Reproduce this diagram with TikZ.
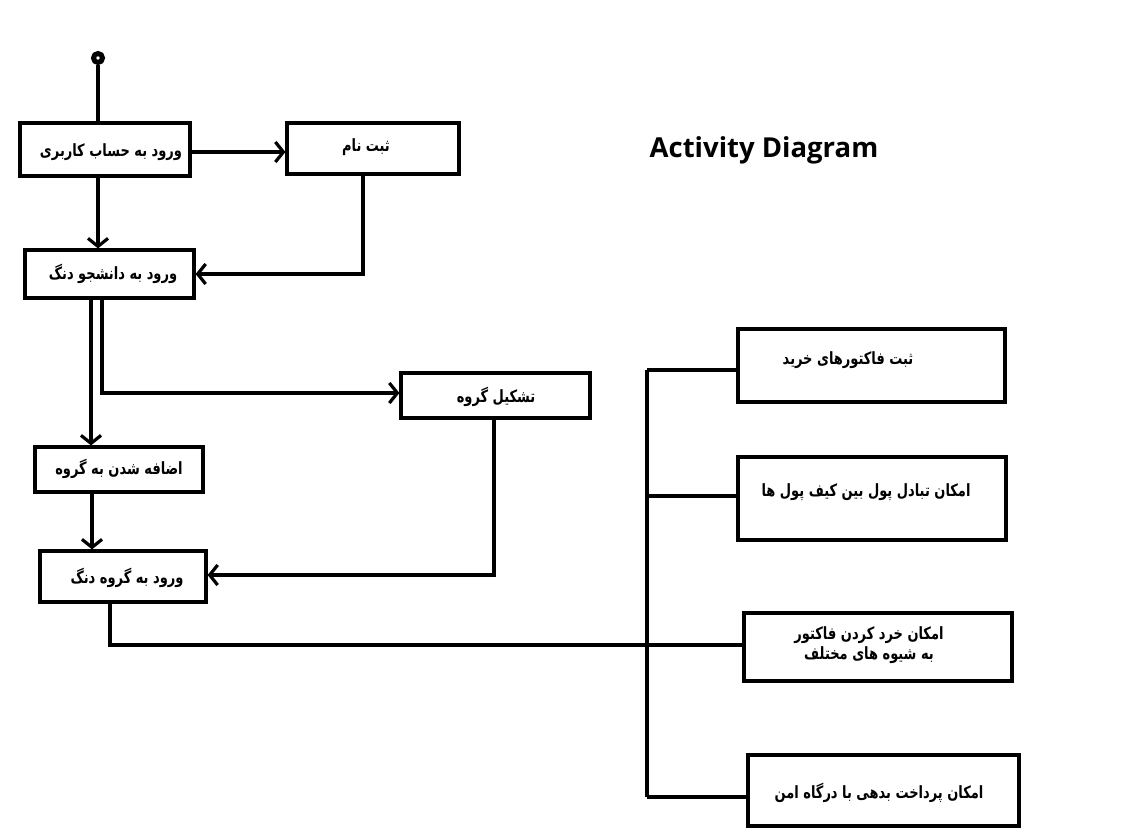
\documentclass[tikz,border=0pt]{standalone}
\usepackage{fontspec}
\usepackage{graphicx}
\usetikzlibrary{arrows.meta}
\TeXXeTstate=1
\newfontfamily\arabicfont[Script=Arabic]{DejaVu Sans}
\newfontfamily\titlefont{Open Sans}
\newcommand\faline[1]{\scalebox{1}[1.3]{\beginR #1\endR}}
\begin{document}
\begin{tikzpicture}[x=1pt,y=-1pt,
  line width=3.2pt,
  box/.style={draw, rectangle, line width=3.2pt, inner sep=0pt},
  txt/.style={font=\arabicfont\bfseries\fontsize{13}{19}\selectfont, inner sep=0pt, align=center},
  arr/.style={-{Straight Barb[length=8pt,width=20pt]}},
  ln/.style={line width=3.2pt}]
\useasboundingbox[fill=white] (0,0) rectangle (1126,835);
% start node
\node[draw, circle, fill=white, line width=5pt, minimum size=9pt, inner sep=0pt] (s) at (98,58) {};
% boxes
\node[box, minimum width=170pt, minimum height=53pt] (b1) at (105,149.5) {};
\node[box, minimum width=172pt, minimum height=51pt] (b2) at (373,148.5) {};
\node[box, minimum width=169pt, minimum height=48pt] (b3) at (109.5,274) {};
\node[box, minimum width=189pt, minimum height=45pt] (b5) at (495.5,395.5) {};
\node[box, minimum width=168pt, minimum height=45pt] (b4) at (119,469.5) {};
\node[box, minimum width=166pt, minimum height=51pt] (b6) at (123,576.5) {};
\node[box, minimum width=267pt, minimum height=73pt] (b7) at (871.5,365.5) {};
\node[box, minimum width=268pt, minimum height=83pt] (b8) at (872,498.5) {};
\node[box, minimum width=268pt, minimum height=68pt] (b9) at (878,647) {};
\node[box, minimum width=271pt, minimum height=71pt] (b10) at (883.5,790.5) {};
% texts
\node[txt] (t1) at (111,152) {\faline{ورود به حساب کاربری}};
\node[txt] (t2) at (366,147) {\faline{ثبت نام}};
\node[txt] (t3) at (113,274) {\faline{ورود به دانشجو دنگ}};
\node[txt] (t5) at (496,397) {\faline{تشکیل گروه}};
\node[txt] (t4) at (119,469) {\faline{اضافه شدن به گروه}};
\node[txt] (t6) at (127,578) {\faline{ورود به گروه دنگ}};
\node[txt] (t7) at (848,360) {\faline{ثبت فاکتورهای خرید}};
\node[txt] (t8) at (866,492) {\faline{امکان تبادل پول بین کیف پول ها}};
\node[txt] (t9) at (869,645) {\faline{امکان خرد کردن فاکتور}\\[1pt]\faline{به شیوه های مختلف}};
\node[txt] (t10) at (879,793) {\faline{امکان پرداخت بدهی با درگاه امن}};
\node[font=\titlefont\bfseries\fontsize{27.5}{32}\selectfont, inner sep=0pt] (title) at (764,150) {Activity Diagram};
% connectors
\draw[ln] (s) -- (s |- b1.north);
\draw[ln,arr] ([yshift=-2.5pt]b1.east) -- ([yshift=-2.5pt]b1.east -| b2.west);
\draw[ln,arr] (b1.south -| s) -- (b3.north -| s);
\draw[ln,arr] ([xshift=-10pt]b2.south) |- (b3.east);
\coordinate (c1) at ([xshift=-18.5pt]b3.south);
\coordinate (c2) at ([xshift=-7.5pt]b3.south);
\draw[ln,arr] (c1) -- (c1 |- b4.north);
\draw[ln,arr] (c2) |- ([yshift=2.5pt]b5.west);
\coordinate (c3) at ([xshift=-27pt]b4.south);
\draw[ln,arr] (c3) -- (c3 |- b6.north);
\draw[ln,arr] ([xshift=-1.5pt]b5.south) |- ([yshift=1.5pt]b6.east);
\coordinate (c4) at ([xshift=-13pt]b6.south);
\draw[ln] (c4) |- ([yshift=2pt]b9.west);
\coordinate (bus) at (647,0);
\coordinate (k7) at ([yshift=-4.5pt]b7.west);
\coordinate (k8) at ([yshift=2.5pt]b8.west);
\coordinate (k10) at ([yshift=-6.5pt]b10.west);
\draw[ln] (k7) -- (k7 -| bus);
\draw[ln] (k8) -- (k8 -| bus);
\draw[ln] (k10) -- (k10 -| bus);
\draw[ln] (k7 -| bus) -- (k10 -| bus);
\end{tikzpicture}
\end{document}
